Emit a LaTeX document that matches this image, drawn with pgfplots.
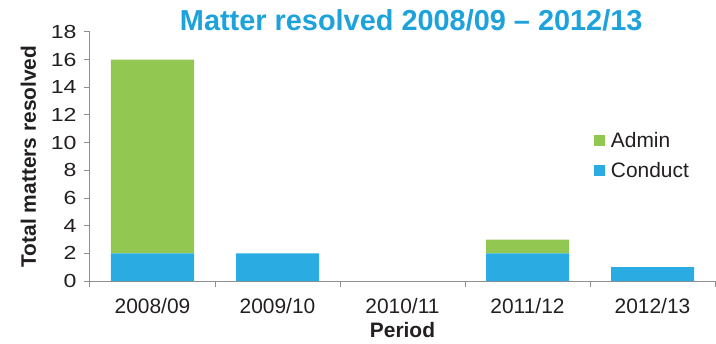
\documentclass[border=0pt]{standalone}
\usepackage{fontspec}
\setmainfont{Liberation Sans}
\usepackage{pgfplots}
\pgfplotsset{compat=1.18}
\definecolor{conduct}{HTML}{2AACE2}
\definecolor{admin}{HTML}{92C851}
\definecolor{titleblue}{HTML}{1EA2DC}
\definecolor{axisgray}{HTML}{8E8E8E}
\definecolor{txt}{HTML}{231F20}
\begin{document}
\begin{tikzpicture}
\begin{axis}[
  scale only axis,
  width=625bp, height=249bp,
  ybar stacked,
  bar width=83bp,
  xmin=-0.5, xmax=4.5,
  ymin=0, ymax=18,
  enlargelimits=false,
  axis lines*=left,
  axis line style={draw=axisgray, line width=1bp, -},
  xtick={0,1,2,3,4},
  xticklabels={2008/09,2009/10,2010/11,2011/12,2012/13},
  minor xtick={-0.5,0.5,1.5,2.5,3.5,4.5},
  major x tick style={draw=none},
  minor x tick style={draw=axisgray, line width=1bp},
  minor tick length=6bp,
  ytick={0,2,...,18},
  y tick style={draw=axisgray, line width=1bp},
  major tick length=6bp,
  tick align=outside,
  /pgf/number format/assume math mode=true,
  ticklabel style={text=txt},
  yticklabel style={font=\fontsize{19}{21}\selectfont\addfontfeature{FakeStretch=1.22}, xshift=-4bp},
  xticklabel style={font=\fontsize{21}{23}\selectfont, yshift=-8bp},
  xlabel={\textbf{Period}},
  xlabel style={font=\fontsize{21}{23}\selectfont, text=txt, yshift=-2bp},
  legend cell align=left,
  reverse legend,
  legend style={at={(0.806,0.503)}, anchor=west, draw=none, fill=none,
    inner sep=0pt, row sep=9bp, font=\fontsize{21}{23}\selectfont, text=txt},
  legend image code/.code={\fill[#1] (0bp,-5.5bp) rectangle (11bp,5.5bp); \path (15bp,0bp);},
  clip=false,
]
\addplot[fill=conduct, draw=none] coordinates {(0,2) (1,2) (2,0) (3,2) (4,1)};
\addplot[fill=admin, draw=none] coordinates {(0,14) (1,0) (2,0) (3,1) (4,0)};
\legend{Conduct,Admin}
\node[anchor=base, font=\fontsize{29}{31}\selectfont\bfseries, text=titleblue]
  at (rel axis cs:0.514,1) [yshift=1bp] {Matter resolved 2008/09 -- 2012/13};
\node[xshift=-54bp, rotate=90, anchor=base, font=\fontsize{21}{23}\selectfont\bfseries, text=txt]
  at (rel axis cs:0,0.5) {Total matters resolved};
\end{axis}
\pgfresetboundingbox
\path[use as bounding box] (-90bp,-63bp) rectangle (626bp,281bp);
\end{tikzpicture}
\end{document}
